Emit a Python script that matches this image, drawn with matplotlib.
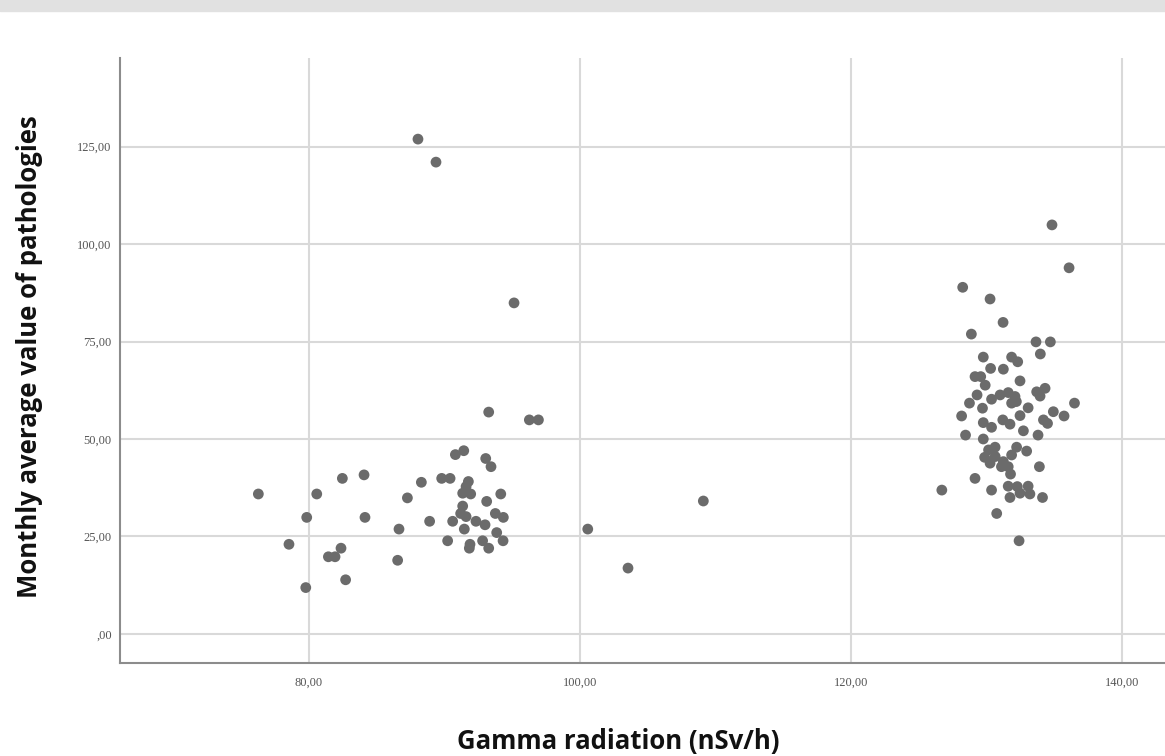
import matplotlib.pyplot as plt
from matplotlib.patches import Rectangle

# gamma radiation (nSv/h) vs monthly average pathologies
gamma_low = [76.26, 80.57, 79.83, 78.52, 79.76, 82.46, 84.06, 84.13, 82.36, 81.43,
             81.92, 82.70, 86.64, 86.54, 87.26, 88.29, 88.90, 89.79, 90.41, 90.80,
             91.42, 93.26, 96.26, 96.93, 93.04, 93.43, 91.76, 91.59, 91.34, 91.93,
             94.15, 93.11, 91.34, 91.19, 91.59, 90.60, 91.46, 92.32, 92.99, 93.75,
             94.34, 93.85, 94.32, 90.23, 91.88, 91.83, 92.81, 93.26, 100.57, 103.54,
             88.04, 89.37, 95.13, 109.10]
path_low = [35.9, 35.9, 29.9, 23.0, 11.9, 39.9, 40.8, 29.9, 22.0, 19.8,
            19.8, 13.9, 26.9, 18.9, 34.9, 38.9, 28.9, 39.9, 39.9, 46.0,
            47.0, 56.9, 54.9, 54.9, 45.0, 42.9, 39.1, 37.8, 36.1, 35.9,
            35.9, 34.0, 32.8, 30.9, 30.1, 28.9, 26.9, 28.9, 28.0, 30.9,
            29.9, 26.0, 23.9, 23.9, 23.0, 22.0, 23.9, 22.0, 26.9, 16.9,
            126.9, 121.0, 84.9, 34.1]

gamma_high = [134.83, 136.09, 128.24, 130.26, 131.22, 128.88, 133.65, 134.71, 133.97, 129.76,
              131.85, 132.30, 130.30, 131.24, 129.15, 129.57, 129.90, 132.47, 133.70, 134.32,
              133.95, 129.30, 128.74, 130.37, 131.00, 131.60, 132.10, 132.20, 131.85, 129.70,
              133.07, 128.16, 132.47, 134.93, 135.72, 136.49, 134.20, 134.50, 129.76, 130.37,
              131.20, 131.73, 132.72, 128.45, 133.80, 129.76, 130.15, 130.63, 132.22, 132.96,
              129.86, 130.64, 131.85, 130.26, 131.24, 131.60, 131.10, 131.77, 133.90, 129.15,
              126.70, 130.37, 131.60, 132.27, 133.07, 133.20, 132.47, 131.73, 134.13, 130.75,
              132.40]
path_high = [104.9, 93.9, 88.9, 85.9, 79.9, 76.9, 74.9, 74.9, 71.8, 71.0,
             71.0, 69.8, 68.1, 67.9, 66.0, 66.0, 63.8, 64.9, 62.1, 63.0,
             61.0, 61.3, 59.2, 60.2, 61.3, 61.9, 60.9, 59.6, 59.2, 57.9,
             58.0, 55.9, 56.0, 57.0, 55.9, 59.2, 54.9, 54.0, 54.2, 53.0,
             54.9, 53.8, 52.1, 51.0, 51.0, 50.0, 47.2, 47.9, 47.9, 46.9,
             45.3, 45.5, 45.9, 43.8, 44.2, 42.9, 42.9, 41.0, 42.9, 39.9,
             36.9, 36.9, 37.9, 37.8, 37.9, 35.9, 36.1, 35.0, 35.0, 30.9,
             23.9]

x_ticks = [80, 100, 120, 140]
y_ticks = [0, 25, 50, 75, 100, 125]


def fmt(v):
    s = f"{v:.2f}".replace(".", ",")
    return s[1:] if s.startswith("0,") else s


fig = plt.figure(figsize=(11.65, 7.56), dpi=100)
fig.patches.append(Rectangle((0, 1 - 11 / 756), 1, 11 / 756, transform=fig.transFigure,
                             color="#e1e1e1", zorder=0))

ax = fig.add_axes([120 / 1165, 93 / 756, 1045 / 1165, 605 / 756])
ax.scatter(gamma_low + gamma_high, path_low + path_high, s=60, color="#6b6b6b",
           edgecolors="none", zorder=3)

ax.set_xlim(66.05, 143.17)
ax.set_ylim(-7.44, 147.7)
ax.set_xticks(x_ticks)
ax.set_yticks(y_ticks)
ax.set_xticklabels([fmt(v) for v in x_ticks])
ax.set_yticklabels([fmt(v) for v in y_ticks])
for lab in ax.get_xticklabels() + ax.get_yticklabels():
    lab.set_fontfamily("Liberation Serif")
    lab.set_fontsize(9)
    lab.set_color("#555555")
ax.tick_params(axis="both", length=0)
ax.tick_params(axis="x", pad=10)
ax.tick_params(axis="y", pad=6)

ax.grid(True, color="#d9d9d9", linewidth=1.5)
ax.set_axisbelow(True)
for side in ["top", "right"]:
    ax.spines[side].set_visible(False)
for side in ["left", "bottom"]:
    ax.spines[side].set_color("#8c8c8c")
    ax.spines[side].set_linewidth(1.5)

fig.text(30 / 1165, 1 - 357 / 756, "Monthly average value of pathologies", rotation=90,
         ha="center", va="center", fontsize=18.5, fontweight="bold", family="Open Sans",
         color="#111111")
fig.text(618 / 1165, 1 - 741 / 756, "Gamma radiation (nSv/h)", ha="center", va="center",
         fontsize=18.5, fontweight="bold", family="Open Sans", color="#111111")

fig.savefig("out.png", dpi=100)
